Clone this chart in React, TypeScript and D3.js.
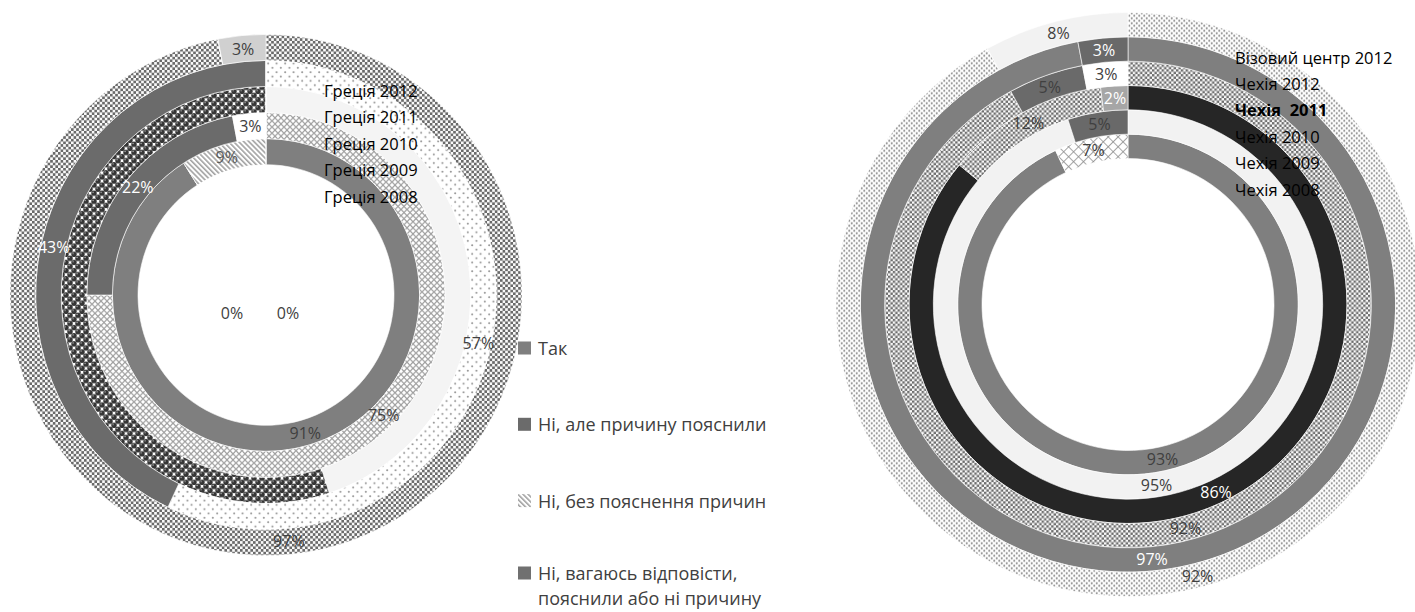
import React, { useEffect, useRef } from 'react'
import * as d3 from 'd3'

// answer categories (legend)
const answers = [
  'Так',
  'Ні, але причину пояснили',
  'Ні, без пояснення причин',
  'Ні, вагаюсь відповісти,',
]
const answerLastLine = 'пояснили або ні причину'

// Greece: rings from inner to outer
const greeceRings = ['Греція 2008', 'Греція 2009', 'Греція 2010', 'Греція 2011', 'Греція 2012']
const greece2008 = [91, 0, 9, 0]
const greece2009 = [75, 22, 3, 0]
const greece2010 = [45, 55, 0, 0]
const greece2011 = [57, 43, 0, 0]
const greece2012 = [97, 0, 0, 3]
const greeceValues = [greece2008, greece2009, greece2010, greece2011, greece2012]
const greeceLabelled = [true, true, false, true, true]

// Czech: rings from inner to outer
const czechRings = ['Чехія 2008', 'Чехія 2009', 'Чехія 2010', 'Чехія  2011', 'Чехія 2012', 'Візовий центр 2012']
const czech2008 = [93, 7]
const czech2009 = [95, 5]
const czech2010 = [86, 12, 2]
const czech2011 = [92, 5, 3]
const czech2012 = [97, 3]
const visa2012 = [92, 8]
const czechValues = [czech2008, czech2009, czech2010, czech2011, czech2012, visa2012]

// fills per ring / slice
const greeceFills = [
  ['#7f7f7f', '#6b6b6b', 'url(#stripes)', '#6b6b6b'],
  ['url(#fret)', '#6b6b6b', '#ffffff', '#6b6b6b'],
  ['#f4f4f4', 'url(#balls)', '#6b6b6b', '#6b6b6b'],
  ['url(#dotsSparse)', '#6b6b6b', '#6b6b6b', '#6b6b6b'],
  ['url(#checkL)', '#6b6b6b', '#6b6b6b', '#d0d0d0'],
]
const greeceLabelColors = [
  ['#404040', '#404040', '#595959', '#404040'],
  ['#404040', '#ffffff', '#404040', '#404040'],
  ['#404040', '#404040', '#404040', '#404040'],
  ['#404040', '#ffffff', '#404040', '#404040'],
  ['#404040', '#404040', '#404040', '#404040'],
]
const czechFills = [
  ['#7f7f7f', 'url(#cross)'],
  ['#f2f2f2', '#696969'],
  ['#262626', 'url(#checkR)', '#a6a6a6'],
  ['url(#checkR)', '#6a6a6a', '#ffffff'],
  ['#7f7f7f', '#696969'],
  ['url(#dotsFine)', '#f2f2f2'],
]
const czechLabelColors = [
  ['#404040', '#404040'],
  ['#404040', '#404040'],
  ['#ffffff', '#404040', '#ffffff'],
  ['#404040', '#404040', '#404040'],
  ['#ffffff', '#ffffff'],
  ['#404040', '#404040'],
]

const W = 1415
const H = 612
const FONT = '"Open Sans", sans-serif'

const addPatterns = (defs: any) => {
  const pat = (id: string, w: number, h: number, bg: string, transform?: string) => {
    const p = defs.append('pattern').attr('id', id).attr('patternUnits', 'userSpaceOnUse')
      .attr('width', w).attr('height', h)
    if (transform) p.attr('patternTransform', transform)
    p.append('rect').attr('width', w).attr('height', h).attr('fill', bg)
    return p
  }
  const checker = (id: string, s: number, c: string) => {
    const p = pat(id, s * 2, s * 2, '#fafafa')
    p.append('rect').attr('width', s).attr('height', s).attr('fill', c)
    p.append('rect').attr('x', s).attr('y', s).attr('width', s).attr('height', s).attr('fill', c)
  }
  checker('checkL', 2.6, '#6a6a6a')
  checker('checkR', 2.4, '#6e6e6e')

  const dots = (id: string, s: number, r: number, c: string) => {
    const p = pat(id, s, s, '#ffffff')
    p.append('circle').attr('cx', s / 4).attr('cy', s / 4).attr('r', r).attr('fill', c)
    p.append('circle').attr('cx', (3 * s) / 4).attr('cy', (3 * s) / 4).attr('r', r).attr('fill', c)
  }
  dots('dotsSparse', 8.5, 0.95, '#8a8a8a')
  dots('dotsFine', 5, 1.05, '#858585')

  const balls = pat('balls', 8, 8, '#ffffff')
  ;[[4, 4], [0, 0], [8, 0], [0, 8], [8, 8]].forEach(([x, y]) => {
    balls.append('circle').attr('cx', x).attr('cy', y).attr('r', 2.75).attr('fill', '#353535')
    balls.append('circle').attr('cx', x - 0.9).attr('cy', y - 0.9).attr('r', 0.7).attr('fill', '#bdbdbd')
  })

  const fret = pat('fret', 6, 6, '#ffffff')
  fret.append('path').attr('d', 'M0,3 L3,0 M3,6 L6,3 M0,3 L3,6 M3,0 L6,3')
    .attr('stroke', '#a0a0a0').attr('stroke-width', 1.2).attr('fill', 'none')

  const stripes = pat('stripes', 3.6, 3.6, '#ffffff', 'rotate(-45)')
  stripes.append('rect').attr('width', 1.6).attr('height', 3.6).attr('fill', '#a3a3a3')

  const cross = pat('cross', 7, 7, '#ffffff', 'rotate(45)')
  cross.append('path').attr('d', 'M0,0 H7 M0,0 V7').attr('stroke', '#8c8c8c').attr('stroke-width', 1.6)
}

const drawDonut = (
  svg: any, cx: number, cy: number, ky: number, inner: number, outer: number,
  values: number[][], fills: string[][], labelColors: string[][], labelled: boolean[],
) => {
  const step = (outer - inner) / values.length
  const pie = d3.pie<number>().sort(null).value(d => d)
  const arcsG = svg.append('g').attr('transform', `translate(${cx},${cy}) scale(1,${ky})`)
  const labelsG = svg.append('g').attr('transform', `translate(${cx},${cy})`)

  values.forEach((vals, i) => {
    const arc = d3.arc<d3.PieArcDatum<number>>()
      .innerRadius(inner + i * step)
      .outerRadius(inner + (i + 1) * step)
    const slices = pie(vals)
    arcsG.append('g').selectAll('path').data(slices).join('path')
      .attr('d', arc)
      .attr('fill', (_d: any, j: number) => fills[i][j])
      .attr('stroke', '#ffffff').attr('stroke-width', 0.6)

    if (!labelled[i]) return
    slices.filter(d => d.value > 0).forEach(d => {
      const [x, y] = arc.centroid(d)
      labelsG.append('text')
        .attr('x', x).attr('y', y * ky)
        .attr('text-anchor', 'middle').attr('dominant-baseline', 'central')
        .attr('font-family', FONT).attr('font-size', 16)
        .attr('fill', labelColors[i][d.index])
        .text(`${d.value}%`)
    })
  })
  return labelsG
}

const App = () => {
  const svgRef = useRef<SVGSVGElement>(null)

  useEffect(() => {
    if (svgRef.current === null) return
    const svg = d3.select(svgRef.current)
    svg.selectAll('*').remove()
    addPatterns(svg.append('defs'))

    // Greece doughnut
    const gCx = 266
    const gCy = 295
    const gLabels = drawDonut(svg, gCx, gCy, 1.018, 128, 256, greeceValues, greeceFills, greeceLabelColors, greeceLabelled)
    // zero-value labels of the inner ring
    greece2008.filter(v => v === 0).forEach((v, i) => {
      gLabels.append('text')
        .attr('x', -34 + i * 56).attr('y', 18)
        .attr('text-anchor', 'middle').attr('dominant-baseline', 'central')
        .attr('font-family', FONT).attr('font-size', 16).attr('fill', '#404040')
        .text(`${v}%`)
    })
    const greeceNames = greeceRings.slice().reverse()
    svg.append('g').selectAll('text').data(greeceNames).join('text')
      .attr('x', 324).attr('y', (_d: string, i: number) => 90 + i * 26.5)
      .attr('dominant-baseline', 'central')
      .attr('font-family', FONT).attr('font-size', 16.5).attr('fill', '#000')
      .text((d: string) => d)

    // Czech doughnut
    drawDonut(svg, 1128, 304.5, 1, 146, 292, czechValues, czechFills, czechLabelColors, czechValues.map(() => true))
    const czechNames = czechRings.slice().reverse()
    svg.append('g').selectAll('text').data(czechNames).join('text')
      .attr('x', 1235).attr('y', (_d: string, i: number) => 57 + i * 26.4)
      .attr('dominant-baseline', 'central')
      .attr('font-family', FONT).attr('font-size', 16.5).attr('fill', '#000')
      .attr('font-weight', (d: string) => (d === 'Чехія  2011' ? 'bold' : 'normal'))
      .attr('xml:space', 'preserve')
      .text((d: string) => d)

    // legend
    const legend = svg.append('g').attr('transform', 'translate(518,348)')
    const legendFills = ['#7f7f7f', '#6b6b6b', 'url(#stripes)', '#707070']
    const legendY = (i: number) => (i < 3 ? i * 76.3 : 225)
    const items = legend.selectAll('g').data(answers).join('g')
      .attr('transform', (_d: string, i: number) => `translate(0,${legendY(i)})`)
    items.append('rect').attr('y', -6.5).attr('width', 13).attr('height', 13)
      .attr('fill', (_d: string, i: number) => legendFills[i])
    items.append('text').attr('x', 20).attr('dominant-baseline', 'central')
      .attr('font-family', FONT).attr('font-size', 18).attr('fill', '#404040')
      .text((d: string) => d)
    legend.append('text').attr('x', 20).attr('y', legendY(3) + 25).attr('dominant-baseline', 'central')
      .attr('font-family', FONT).attr('font-size', 18).attr('fill', '#404040')
      .text(answerLastLine)
  }, [])

  return (
    <svg ref={svgRef} width={W} height={H}
      style={{ position: 'absolute', left: 0, top: 0, background: '#ffffff' }} />
  )
}

export default App
